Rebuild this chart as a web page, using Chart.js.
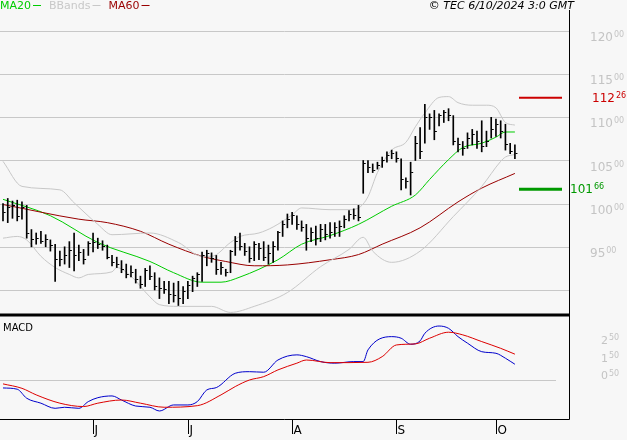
<!DOCTYPE html>
<html><head><meta charset="utf-8">
<script src="https://cdn.jsdelivr.net/npm/chart.js@4/dist/chart.umd.min.js"></script>
<style>html,body{margin:0;padding:0;background:#f7f7f7}#c{display:block}</style>
</head><body>
<div style="width:627px;height:440px"><canvas id="c" width="627" height="440"></canvas></div>
<script>
/* ===== price bars (daily, index 0 = early May) ===== */
const hi = [100.0,100.6,100.3,100.4,100.2,99.8,97.0,96.6,96.8,96.4, 95.8,95.3,94.5,95.0,95.6,96.6,95.2,94.7,95.6,96.6,
  96.0,95.7,95.2,94.0,93.8,93.4,93.0,92.8,92.4,91.6, 92.5,92.8,92.0,91.4,91.0,91.0,90.8,91.0,90.4,91.0,
  91.6,92.0,94.4,94.6,94.3,94.0,93.2,92.4,94.6,96.2, 96.6,95.4,95.0,95.6,95.4,95.6,95.2,95.6,96.8,98.0,
  98.8,99.0,98.6,98.0,97.6,97.2,97.4,97.6,97.6,97.8, 97.8,98.0,98.6,99.2,99.4,99.8,105.0,105.0,104.6,104.8,
  105.4,106.0,106.2,106.0,105.2,103.0,104.8,107.8,108.8,111.5, 110.4,110.8,110.4,110.8,111.0,110.2,107.6,107.2,108.2,108.6,
  108.4,109.6,108.4,110.0,109.8,109.6,109.2,107.0,106.8];
const lo = [98.0,97.8,98.3,98.0,98.2,96.0,95.0,95.3,95.4,95.0, 94.5,91.0,92.8,93.0,92.6,92.2,93.4,93.0,94.0,94.4,
  94.8,94.6,93.6,92.8,92.6,92.0,91.4,91.5,90.8,90.2, 90.4,91.2,90.0,89.0,89.6,88.4,88.6,88.2,88.4,89.0,
  89.8,90.4,91.0,92.8,93.2,91.8,91.8,91.6,92.0,94.0, 94.6,94.0,93.2,93.4,93.5,93.4,93.0,93.2,94.6,96.2,
  97.2,97.6,97.0,96.8,94.6,95.6,95.2,95.6,95.8,96.0, 96.2,96.2,97.2,98.0,98.2,98.0,101.2,103.6,103.6,104.0,
  104.2,104.8,105.2,104.8,101.6,101.8,101.0,105.0,105.2,107.0, 108.6,107.4,109.0,109.4,109.6,106.8,106.0,105.6,106.4,106.8,
  106.4,106.0,106.6,107.6,107.8,107.6,106.2,105.8,105.2];
const cl = [99.0,99.5,99.8,98.5,99.5,96.5,95.8,96.0,95.6,95.8, 95.2,93.5,93.5,94.0,94.6,94.0,94.3,93.5,95.4,95.5,
  95.3,95.0,93.8,93.2,93.0,92.4,91.8,92.0,91.2,90.6, 92.2,91.6,90.4,90.2,90.0,89.5,89.4,89.0,89.8,90.5,
  91.3,91.8,94.0,94.2,93.6,92.4,92.6,92.0,94.4,95.6, 95.0,94.5,93.6,95.3,94.8,93.8,94.2,95.0,96.6,97.6,
  98.2,98.6,97.6,97.2,96.0,96.6,96.0,97.0,96.4,96.6, 97.2,97.4,98.2,98.8,98.6,98.4,104.6,104.2,103.8,104.4,
  105.0,105.6,105.8,105.2,102.8,102.6,103.6,107.0,106.0,110.0, 110.0,108.4,110.2,110.6,110.2,107.2,106.8,106.4,107.6,108.0,
  107.2,106.6,107.2,108.6,109.2,108.4,106.8,106.0,105.8];

/* ===== indicators, read at given bar indices ===== */
const ma20X = [0,10,20,31,36,42,46,50,58,63,69,75,82,87,90,94,97,101,104,106,108];
const ma20Y = [100.5,98.6,95.5,93.3,92.0,90.9,90.9,91.5,93.5,95.3,96.3,97.6,99.7,101.0,102.8,105.1,106.5,107.0,107.7,108.3,108.3];
const ma50X = [0,16,22,29,35,42,47,53,60,69,75,80,88,96,101,108];
const ma50Y = [99.9,98.2,97.8,96.8,95.3,93.9,93.3,92.8,92.9,93.5,94.1,95.3,97.2,100.2,101.8,103.5];
const bbUpX = [0,4,12,15,20,23,31,37,42,44,48,50,54,57,61,63,69,73,75,77,79,82,85,87,89,92,94,96,99,102,104,106,108];
const bbUpY = [104.9,102.0,101.6,100.1,97.6,96.4,96.6,95.5,93.9,93.9,95.5,96.2,96.6,97.3,98.7,99.5,99.3,99.3,99.5,100.8,103.6,106.2,107.1,108.9,110.5,112.3,112.4,111.7,111.4,111.4,111.1,109.4,109.1];
const bbLoX = [0,3,5,8,11,14,16,18,23,24,27,31,33,37,44,48,53,60,67,73,76,78,82,88,95,101,105,106,108];
const bbLoY = [96.0,96.2,95.8,93.9,92.6,91.8,91.4,91.8,92.1,92.6,91.6,89.2,88.3,88.1,88.1,87.4,88.1,89.7,92.7,94.7,96.1,94.5,93.2,94.5,98.5,102.0,104.9,105.4,105.7];
const macdX = [0,3,5,8,11,13,16,18,20,23,25,28,31,33,36,39,41,43,45,49,52,55,58,62,64,67,70,74,76,77,82,84,86,88,89,92,94,96,98,101,104,106,108];
const macdY = [-0.14,-0.21,-0.72,-1.00,-1.29,-1.23,-1.29,-0.91,-0.69,-0.59,-0.82,-1.16,-1.23,-1.44,-1.10,-1.10,-0.91,-0.25,-0.12,0.69,0.78,0.75,1.44,1.73,1.63,1.35,1.26,1.35,1.35,2.01,2.76,2.67,2.33,2.52,2.95,3.36,3.23,2.76,2.39,1.91,1.82,1.54,1.20];
const sigX = [0,4,7,12,17,20,25,29,34,41,46,49,52,55,58,62,64,69,77,80,83,87,90,94,97,101,105,108];
const sigY = [0.09,-0.16,-0.53,-1.00,-1.19,-1.00,-0.82,-1.00,-1.23,-1.14,-0.53,-0.06,0.31,0.50,0.88,1.26,1.44,1.29,1.31,1.63,2.29,2.35,2.67,3.01,2.86,2.48,2.10,1.77];
const macdBase = 0.31;

/* ===== axes / labels ===== */
const priceTicks = [90,95,100,105,110,115,120];
const priceLabels = [120,115,110,105,100,95];
const macdLabels = [2.5,1.5,0.5];
const months = ['J','J','A','S','O'];
const monthIdx = [19,39,61,83,104];
const refLevels = [112.26, 101.66];
const refColors = ['#cc0000','#009900'];
const legend = [['MA20','#00cc00'],['BBands','#c8c8c8'],['MA60','#990000']];
const stamp = '© TEC 6/10/2024 3:0 GMT';

const pts = (xs, ys) => xs.map((x,i)=>({x, y:ys[i]}));
const PRICE_R = 569, SEP_Y = 315, BOT_Y = 419;

// close tick drawn to the right of the bar
const tick = document.createElement('canvas'); tick.width = 7; tick.height = 1;
{ const t = tick.getContext('2d'); t.fillStyle = '#000'; t.fillRect(4,0,2,1); }

const mkLine = (data, col, axis) => ({type:'line', data, yAxisID:axis, borderColor:col, borderWidth:1,
  pointRadius:0, cubicInterpolationMode:'monotone', order:1});

const fmtSup = (ctx, big, small, x, y, col, f1, f2) => {
  ctx.fillStyle = col; ctx.font = f1; ctx.textBaseline = 'middle'; ctx.textAlign = 'left';
  ctx.fillText(big, x, y); const w = ctx.measureText(big).width;
  ctx.font = f2; ctx.fillText(small, x + w + 1, y - 3);
};

const decor = {id:'decor',
  beforeDraw(c){
    const {ctx} = c, yP = c.scales.yP, yM = c.scales.yM;
    ctx.save();
    ctx.fillStyle = '#f7f7f7'; ctx.fillRect(0,0,627,440);
    ctx.strokeStyle = '#c8c8c8'; ctx.lineWidth = 1;
    priceTicks.forEach(v=>{ const y = Math.round(yP.getPixelForValue(v))+.5;
      ctx.beginPath(); ctx.moveTo(0,y); ctx.lineTo(PRICE_R,y); ctx.stroke(); });
    const y0 = Math.round(yM.getPixelForValue(macdBase))+.5;
    ctx.beginPath(); ctx.moveTo(0,y0); ctx.lineTo(556,y0); ctx.stroke();
    ctx.restore();
  },
  afterDraw(c){
    const {ctx} = c, yP = c.scales.yP, yM = c.scales.yM, xs = c.scales.x;
    ctx.save();
    ctx.fillStyle = '#f7f7f7'; ctx.fillRect(PRICE_R+1,0,60,440);
    ctx.strokeStyle = '#000';
    ctx.lineWidth = 3; ctx.beginPath(); ctx.moveTo(0,SEP_Y); ctx.lineTo(PRICE_R,SEP_Y); ctx.stroke();
    ctx.lineWidth = 1;
    ctx.beginPath(); ctx.moveTo(PRICE_R+.5,10); ctx.lineTo(PRICE_R+.5,BOT_Y+.5); ctx.lineTo(0,BOT_Y+.5); ctx.stroke();
    // month ticks
    ctx.font = '12px "DejaVu Sans"'; ctx.fillStyle = '#000'; ctx.textBaseline = 'top'; ctx.textAlign = 'left';
    months.forEach((m,i)=>{ const x = Math.round(xs.getPixelForValue(monthIdx[i]))+.5;
      ctx.beginPath(); ctx.moveTo(x,BOT_Y); ctx.lineTo(x,434); ctx.stroke();
      ctx.fillText(m, x+1, 425); });
    // axis labels
    priceLabels.forEach(v=>fmtSup(ctx, String(v), '00', 590, yP.getPixelForValue(v)+7, '#c4c4c4',
      '12px "DejaVu Sans"', '8px "DejaVu Sans"'));
    macdLabels.forEach(v=>fmtSup(ctx, String(Math.floor(v)), String(Math.round((v%1)*100)).padStart(2,'0'),
      601, yM.getPixelForValue(v), '#c4c4c4', '11px "DejaVu Sans"', '8px "DejaVu Sans"'));
    // reference levels
    refLevels.forEach((v,i)=>{ const y = yP.getPixelForValue(v);
      ctx.strokeStyle = refColors[i]; ctx.lineWidth = i ? 3 : 2;
      ctx.beginPath(); ctx.moveTo(519,y); ctx.lineTo(562,y); ctx.stroke();
      const [a,b] = v.toFixed(2).split('.');
      fmtSup(ctx, a, b, i ? 570 : 592, y+1, refColors[i], '12px "DejaVu Sans"', '8px "DejaVu Sans"'); });
    // legend + stamp
    ctx.font = '11px "DejaVu Sans"'; ctx.textBaseline = 'middle'; ctx.lineWidth = 1;
    let x = 0;
    legend.forEach(([t,col])=>{ ctx.fillStyle = col; ctx.fillText(t, x, 6); x += ctx.measureText(t).width + 2;
      ctx.strokeStyle = col; ctx.beginPath(); ctx.moveTo(x,5.5); ctx.lineTo(x+8,5.5); ctx.stroke(); x += 16; });
    ctx.fillStyle = '#000'; ctx.font = 'italic 11px "DejaVu Sans"'; ctx.textAlign = 'right';
    ctx.fillText(stamp, 574, 6);
    ctx.textAlign = 'left'; ctx.font = '10px "DejaVu Sans"'; ctx.fillText('MACD', 3, 328);
    ctx.restore();
  }};

new Chart(document.getElementById('c'), {
  type:'bar',
  data:{datasets:[
    {type:'bar', data:hi.map((h,i)=>({x:i, y:[lo[i],h]})), yAxisID:'yP', backgroundColor:'#000',
     barThickness:1, borderWidth:0, order:0},
    {type:'scatter', data:cl.map((v,i)=>({x:i, y:v})), yAxisID:'yP', pointStyle:tick, order:0},
    mkLine(pts(bbUpX,bbUpY),'#c8c8c8','yP'),
    mkLine(pts(bbLoX,bbLoY),'#c8c8c8','yP'),
    mkLine(pts(ma50X,ma50Y),'#990000','yP'),
    mkLine(pts(ma20X,ma20Y),'#00cc00','yP'),
    mkLine(pts(sigX,sigY),'#dd0000','yM'),
    mkLine(pts(macdX,macdY),'#0000cc','yM'),
  ]},
  options:{
    responsive:false, animation:false, events:[],
    layout:{padding:0, autoPadding:false},
    plugins:{legend:{display:false}, tooltip:{enabled:false}},
    scales:{
      x:{type:'linear', min:-0.633, max:131.65, offset:false, grid:{offset:false}, display:false},
      yP:{type:'linear', min:72.62, max:123.59, display:false},
      yM:{type:'linear', min:-3.08, max:21.78, display:false}
    }
  },
  plugins:[decor]
});
</script>
</body></html>
